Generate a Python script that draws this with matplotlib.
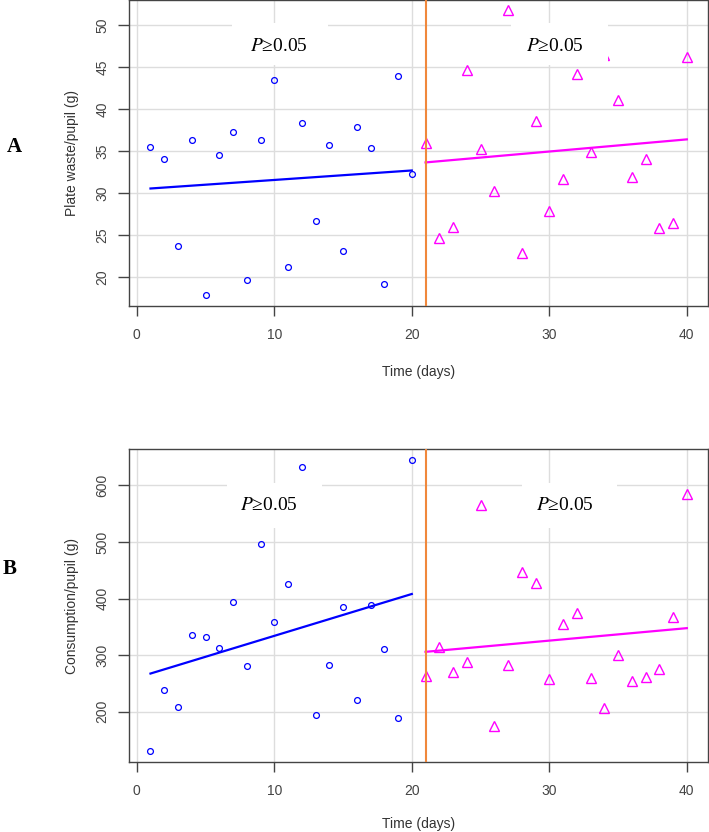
import numpy as np
import matplotlib
matplotlib.use("Agg")
import matplotlib.pyplot as plt
from matplotlib.patches import Rectangle

plt.rcParams["font.family"] = ["Liberation Sans", "DejaVu Sans"]
plt.rcParams["mathtext.fontset"] = "stix"

# days
days_pre = list(range(1, 21))
days_post = list(range(21, 41))

# Panel A: plate waste per pupil (g)
waste_pre = [35.5, 34.0, 23.7, 36.3, 17.8, 34.5, 37.3, 19.6, 36.3, 43.5,
             21.2, 38.3, 26.7, 35.7, 23.1, 37.8, 35.4, 19.1, 43.9, 32.2]
waste_post = [35.9, 24.6, 25.9, 44.6, 35.2, 30.2, 51.8, 22.8, 38.6, 27.8,
              31.7, 44.2, 34.9, 46.4, 41.1, 31.9, 34.0, 25.8, 26.4, 46.2]

# Panel B: consumption per pupil (g)
cons_pre = [131, 239, 208, 335, 332, 312, 393, 280, 496, 358,
            425, 632, 194, 282, 385, 221, 388, 310, 189, 645]
cons_post = [264, 314, 271, 287, 566, 175, 283, 447, 428, 258,
             355, 375, 260, 207, 300, 255, 261, 276, 368, 585]

p_label = "$P$≥0.05"

fig = plt.figure(figsize=(7.09, 8.32), dpi=100)
axA = fig.add_axes([0.182, 0.632, 0.817, 0.368])
axB = fig.add_axes([0.182, 0.084, 0.817, 0.376])


def panel(ax, pre, post, ylabel, yticks, ylim, labels, xpad):
    ax.set_axisbelow(True)
    ax.grid(True, color="#dddddd", linewidth=1.0)
    ax.plot(days_pre, pre, "o", mfc="none", mec="#0000ff", ms=4.2, mew=0.9, zorder=3)
    ax.plot(days_post, post, "^", mfc="none", mec="#ff00ff", ms=7.5, mew=1.0, zorder=3)
    # least squares lines for each phase
    for xs, ys, c in [(days_pre, pre, "#0000ff"), (days_post, post, "#ff00ff")]:
        k, b = np.polyfit(xs, ys, 1)
        xx = np.array([xs[0], xs[-1]])
        ax.plot(xx, k * xx + b, color=c, lw=1.6, zorder=4)
    ax.axvline(21, color="#f0883c", lw=1.5, zorder=4)
    # white legend-like boxes holding the p-value text
    for (tx, ty, x0, x1, y0, y1) in labels:
        ax.add_patch(Rectangle((x0, y0), x1 - x0, y1 - y0, fc="white", ec="none", zorder=5))
        ax.text(tx, ty, p_label, fontsize=14, family=["Liberation Serif"],
                ha="center", va="center", zorder=6)
    ax.set_xlim(-0.56, 41.56)
    ax.set_ylim(*ylim)
    ax.set_xticks([0, 10, 20, 30, 40])
    ax.set_yticks(yticks)
    ax.tick_params(axis="x", length=7, pad=9, labelsize=10, colors="#444444", width=1)
    ax.tick_params(axis="y", length=8, pad=6, labelsize=10, colors="#444444", width=1)
    for t in ax.get_yticklabels():
        t.set_rotation(90)
        t.set_va("center")
    for s in ax.spines.values():
        s.set_color("#444444")
        s.set_linewidth(1.0)
    ax.set_xlabel("Time (days)", fontsize=10, color="#333333", labelpad=xpad)
    ax.set_ylabel(ylabel, fontsize=10, color="#333333", labelpad=12)


panel(axA, waste_pre, waste_post, "Plate waste/pupil (g)",
      [20, 25, 30, 35, 40, 45, 50], (16.5, 52.98),
      [(10.35, 47.4, 6.9, 13.9, 45.2, 50.2), (30.4, 47.4, 27.25, 34.3, 45.2, 50.2)], 16)
panel(axB, cons_pre, cons_post, "Consumption/pupil (g)",
      [200, 300, 400, 500, 600], (111, 663.7),
      [(9.6, 564, 6.56, 13.46, 524, 604), (31.1, 564, 28.05, 34.95, 524, 604)], 13.5)

fig.text(14 / 709, 1 - 147 / 832, "A", fontsize=15, fontweight="bold",
         family=["Liberation Serif"], ha="center", va="center")
fig.text(10 / 709, 1 - 569 / 832, "B", fontsize=15, fontweight="bold",
         family=["Liberation Serif"], ha="center", va="center")

fig.savefig("out.png", dpi=100)
